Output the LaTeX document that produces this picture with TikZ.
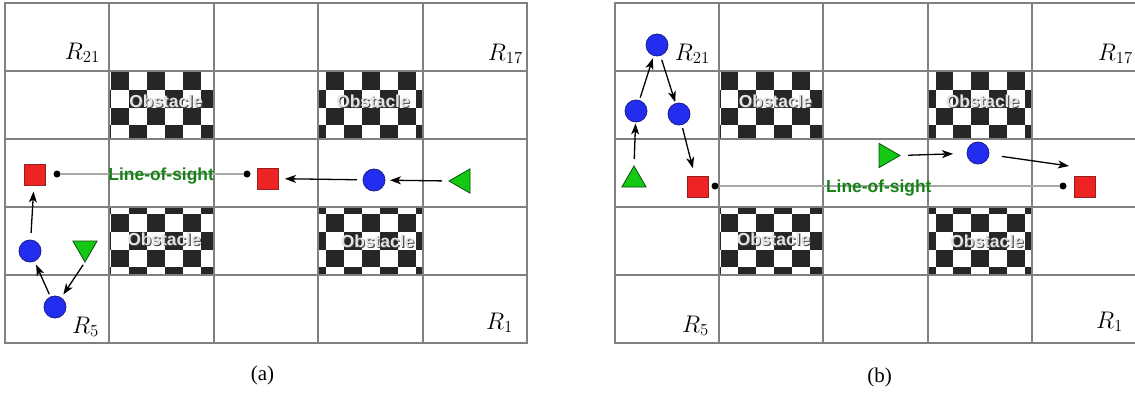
\RequirePackage{fix-cm}
\documentclass[tikz,border=0pt]{standalone}
\usepackage{fontspec}
\newfontfamily\labsans{Liberation Sans}
\newfontfamily\capserif{Liberation Serif}
\usetikzlibrary{shapes.geometric,arrows.meta}

\definecolor{gridgray}{RGB}{128,128,128}
\definecolor{losgray}{RGB}{168,168,168}
\definecolor{chkdark}{RGB}{38,38,38}
\definecolor{bluef}{RGB}{35,45,240}
\definecolor{blued}{RGB}{25,30,140}
\definecolor{redf}{RGB}{238,36,36}
\definecolor{redd}{RGB}{150,30,30}
\definecolor{greenf}{RGB}{20,200,20}
\definecolor{greend}{RGB}{10,80,10}
\definecolor{losgreen}{RGB}{22,130,22}
\definecolor{obsf}{RGB}{228,228,228}
\definecolor{obss}{RGB}{70,70,70}

\newcommand{\chkcell}[4]{%
  \begin{scope}
    \clip (#1,#2) rectangle ++(104.4,68);
    \pgfmathtruncatemacro{\chkia}{floor((#1-#3)/17.92)}%
    \pgfmathtruncatemacro{\chkib}{\chkia+7}%
    \pgfmathtruncatemacro{\chkja}{floor((#2-#4)/17.75)}%
    \pgfmathtruncatemacro{\chkjb}{\chkja+5}%
    \foreach \ci in {\chkia,...,\chkib}{%
      \foreach \cj in {\chkja,...,\chkjb}{%
        \pgfmathtruncatemacro{\chks}{\ci+\cj}%
        \ifodd\chks\relax\else
          \fill[chkdark] ({#3+\ci*17.92},{#4+\cj*17.75}) rectangle ++(17.92,17.75);
        \fi
      }%
    }%
  \end{scope}%
}
\newcommand{\obstxt}{\makebox[0pt][l]{\kern1.1pt\raisebox{-1.1pt}{\textcolor{obss}{Obstacle}}}Obstacle}

\begin{document}
\begin{tikzpicture}[x=1pt,y=-1pt,
  gridline/.style={draw=gridgray,line width=2pt,line cap=rect},
  obslabel/.style={text=obsf,font=\labsans\bfseries\fontsize{17.4}{20}\selectfont,inner sep=0pt},
  loslabel/.style={text=losgreen,font=\labsans\bfseries\fontsize{17.4}{20}\selectfont,inner sep=0pt,anchor=base,yshift=-6pt},
  rlabel/.style={font=\fontsize{24}{29}\selectfont,inner sep=0pt,anchor=base east},
  caption/.style={font=\capserif\fontsize{21}{25}\selectfont,inner sep=0pt,anchor=base},
  robot/.style={circle,fill=bluef,draw=blued,line width=0.8pt,minimum size=22pt,inner sep=0pt,outer sep=0pt},
  goal/.style={rectangle,fill=redf,draw=redd,line width=0.8pt,minimum size=21pt,inner sep=0pt,outer sep=0pt},
  start/.style={regular polygon,regular polygon sides=3,fill=greenf,draw=greend,line width=0.8pt,minimum size=28pt,inner sep=0pt,outer sep=0pt},
  losdot/.style={circle,fill=black,minimum size=7pt,inner sep=0pt,outer sep=0pt},
  losline/.style={draw=losgray,line width=1.5pt},
  move/.style={-{Stealth[length=11pt,width=8pt,inset=3pt]},line width=1.3pt,black}
]
\fill[white] (0,0) rectangle (1135,394);
\useasboundingbox (0,0) rectangle (1135,394);

% grids and obstacles of both panels
\foreach \off/\p in {0/a,609.5/b}{
  \begin{scope}[xshift=\off pt]
    \chkcell{109.4}{71}{111}{72}
    \chkcell{318.2}{71}{111}{72}
    \chkcell{109.4}{207}{111}{72}
    \chkcell{318.2}{207}{111}{72}
    \foreach \k in {0,...,5}{
      \draw[gridline] ({5+104.4*\k},3) -- ({5+104.4*\k},343);
      \draw[gridline] (5,{3+68*\k}) -- (527,{3+68*\k});
    }
    \node[obslabel] (obs\p1) at (166,102) {\obstxt};
    \node[obslabel] (obs\p2) at (373,102) {\obstxt};
    \node[obslabel] (obs\p3) at (164,240) {\obstxt};
    \node[obslabel] (obs\p4) at (377.5,241.5) {\obstxt};
  \end{scope}
}

% region labels
\node[rlabel] (RA21) at (100,59) {$R_{21}$};
\node[rlabel] (RA17) at (523,60) {$R_{17}$};
\node[rlabel] (RA5) at (99,333) {$R_5$};
\node[rlabel] (RA1) at (513,329) {$R_1$};
\node[rlabel] (RB21) at (710,60) {$R_{21}$};
\node[rlabel] (RB17) at (1133,60) {$R_{17}$};
\node[rlabel] (RB5) at (709,332) {$R_5$};
\node[rlabel] (RB1) at (1123,328) {$R_1$};
\node[caption] (capA) at (262.5,380) {(a)};
\node[caption] (capB) at (879.5,382) {(b)};

% ---------- panel (a)
\node[goal] (sqA1) at (34.5,175) {};
\node[goal] (sqA2) at (267.5,178.5) {};
\node[losdot] (dA1) at (57,174) {};
\node[losdot] (dA2) at (247,174) {};
\node[robot] (rA1) at (374,180) {};
\node[start,regular polygon rotate=90] (tA1) at (463,181) {};
\node[robot] (rA2) at (30,251) {};
\node[robot] (rA3) at (55,307) {};
\node[start,regular polygon rotate=180] (tA2) at (85,248) {};

\draw[losline] (dA1) -- node[loslabel,pos=0.55] (losA) {Line-of-sight} (dA2);

\draw[move,shorten <=6pt,shorten >=7pt] (rA1) -- (sqA2);
\draw[move,shorten <=7pt,shorten >=5pt] (tA1.corner 1) -- (rA1);
\draw[move,shorten <=3.5pt,shorten >=4pt] (tA2.corner 1) -- (rA3);
\draw[move,shorten <=3pt,shorten >=4pt] (rA3) -- (rA2);
\draw[move,shorten <=7pt,shorten >=6pt] (rA2) -- (sqA1);

% ---------- panel (b)
\node[robot] (rB2) at (657,45) {};
\node[robot] (rB1) at (636,111) {};
\node[robot] (rB3) at (679,114) {};
\node[start] (tB1) at (634,180) {};
\node[goal] (sqB1) at (697.5,186.5) {};
\node[losdot] (dB1) at (715,186) {};
\node[losdot] (dB2) at (1063,186) {};
\node[goal] (sqB2) at (1085,186.5) {};
\node[start,regular polygon rotate=-90] (tB2) at (886,155.5) {};
\node[robot] (rB4) at (978,153) {};
\coordinate (aimB) at (1069,166);

\draw[losline] (dB1) -- node[loslabel,pos=0.47] (losB) {Line-of-sight} (dB2);

\draw[move,shorten <=7pt,shorten >=1.5pt] (tB1.corner 1) -- (rB1);
\draw[move,shorten <=3pt,shorten >=3pt] (rB1) -- (rB2);
\draw[move,shorten <=4.5pt,shorten >=1.5pt] (rB2) -- (rB3);
\draw[move,shorten <=3.5pt,shorten >=8pt] (rB3) -- (sqB1);
\draw[move,shorten <=8pt,shorten >=14pt] (tB2.corner 1) -- (rB4);
\draw[move,shorten <=13pt] (rB4) -- (aimB);
\end{tikzpicture}
\end{document}
